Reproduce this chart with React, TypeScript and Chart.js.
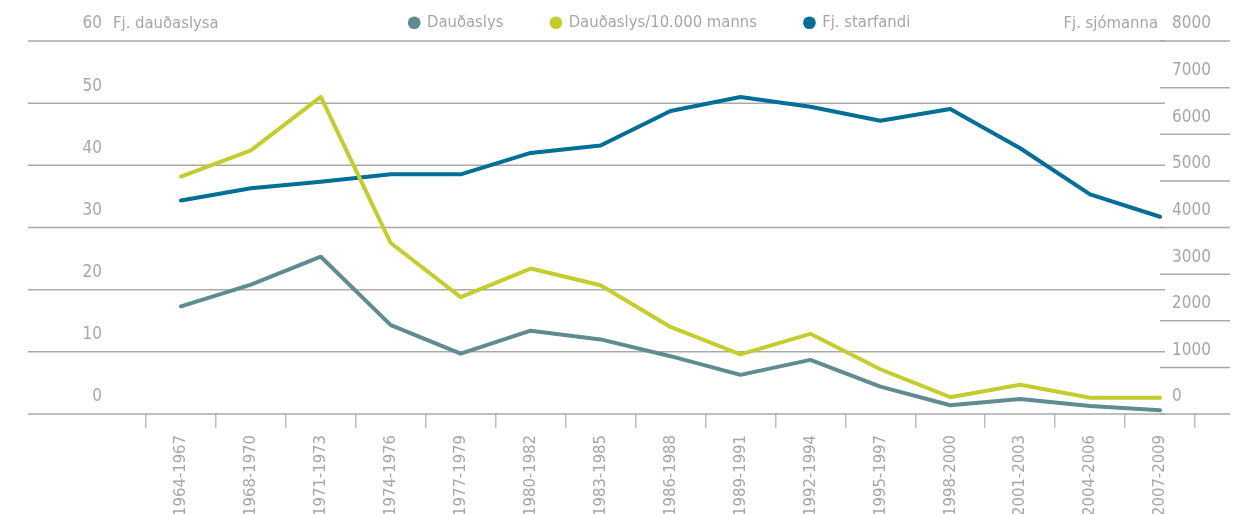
import React, { useEffect, useRef } from "react";
import { Chart, registerables } from "chart.js";

Chart.register(...registerables);

const categories = [
  "1964-1967", "1968-1970", "1971-1973", "1974-1976", "1977-1979",
  "1980-1982", "1983-1985", "1986-1988", "1989-1991", "1992-1994",
  "1995-1997", "1998-2000", "2001-2003", "2004-2006", "2007-2009",
];
const fatalAccidents = [17.3, 20.8, 25.3, 14.3, 9.7, 13.4, 12.0, 9.3, 6.3, 8.7, 4.4, 1.4, 2.4, 1.3, 0.6];
const fatalPer10k = [38.2, 42.4, 51.0, 27.5, 18.8, 23.4, 20.7, 14.0, 9.6, 12.9, 7.2, 2.7, 4.7, 2.6, 2.6];
const seafarers = [4580, 4840, 4980, 5140, 5140, 5600, 5760, 6500, 6800, 6590, 6290, 6540, 5700, 4710, 4230];

const leftTicks = [0, 10, 20, 30, 40, 50, 60];
const rightTicks = [0, 1000, 2000, 3000, 4000, 5000, 6000, 7000, 8000];
const seriesNames = ["Dauðaslys", "Dauðaslys/10.000 manns", "Fj. starfandi"];
const leftTitle = "Fj. dauðaslysa";
const rightTitle = "Fj. sjómanna";

const TEXT = "#a6a6a6";
const GRID = "#a9a9a9";
const TICK = "#bdbdbd";
const COLORS = ["#5f8c90", "#c4cd2c", "#006f97"];
const FAMILY = "'DejaVu Sans Condensed', 'DejaVu Sans', sans-serif";
const SIZE = 16.5;
const NUM_SIZE = 17;
const LEGEND_GAP = 48;

export default function App() {
  const canvasRef = useRef<HTMLCanvasElement | null>(null);

  useEffect(() => {
    if (!canvasRef.current) return;
    const fontOpt: any = { family: FAMILY, size: SIZE };
    const fontStr = `${SIZE}px ${FAMILY}`;
    const numFontStr = `${NUM_SIZE}px ${FAMILY}`;

    Chart.defaults.font.family = FAMILY;
    Chart.defaults.font.size = SIZE;
    Chart.defaults.color = TEXT;

    const axisPlugin = {
      id: "customAxes",
      beforeDatasetsDraw(chart: any) {
        const { ctx, chartArea, scales } = chart;
        const yl = scales.y;
        const yr = scales.y1;
        ctx.save();
        ctx.strokeStyle = GRID;
        ctx.lineWidth = 1.5;
        yl.ticks.forEach((t: any) => {
          const py = yl.getPixelForValue(t.value);
          ctx.beginPath();
          ctx.moveTo(chartArea.left - 118, py);
          ctx.lineTo(chartArea.right - 30, py);
          ctx.stroke();
        });
        yr.ticks.forEach((t: any) => {
          const py = yr.getPixelForValue(t.value);
          ctx.beginPath();
          ctx.moveTo(chartArea.right - 35, py);
          ctx.lineTo(chartArea.right + 35, py);
          ctx.stroke();
        });
        ctx.restore();
      },
      afterDraw(chart: any) {
        const { ctx, chartArea, scales } = chart;
        const yl = scales.y;
        const yr = scales.y1;
        ctx.save();
        ctx.fillStyle = TEXT;
        ctx.textBaseline = "middle";
        ctx.font = numFontStr;
        ctx.textAlign = "right";
        yl.ticks.forEach((t: any) => {
          ctx.fillText(String(t.value), chartArea.left - 44, yl.getPixelForValue(t.value) - 17);
        });
        ctx.textAlign = "left";
        yr.ticks.forEach((t: any) => {
          ctx.fillText(String(t.value), chartArea.right - 23, yr.getPixelForValue(t.value) - 17);
        });
        ctx.font = fontStr;
        ctx.textAlign = "left";
        ctx.fillText(leftTitle, chartArea.left - 33, yl.getPixelForValue(60) - 17);
        ctx.textAlign = "right";
        ctx.fillText(rightTitle, chartArea.right - 37, yr.getPixelForValue(8000) - 17);
        ctx.restore();
      },
    };

    // legend box height = item height + gap + 10 ; chart area should start at y = 41
    const topPad = 41 - (SIZE + LEGEND_GAP + 10);

    const chart = new Chart(canvasRef.current, {
      type: "line",
      data: {
        labels: categories,
        datasets: [
          { label: seriesNames[0], data: fatalAccidents, yAxisID: "y", borderColor: COLORS[0], backgroundColor: COLORS[0] },
          { label: seriesNames[1], data: fatalPer10k, yAxisID: "y", borderColor: COLORS[1], backgroundColor: COLORS[1] },
          { label: seriesNames[2], data: seafarers, yAxisID: "y1", borderColor: COLORS[2], backgroundColor: COLORS[2] },
        ],
      },
      options: {
        animation: false,
        responsive: true,
        maintainAspectRatio: false,
        layout: { padding: { left: 70, right: 0, top: topPad, bottom: 0 } },
        elements: {
          line: { borderWidth: 4, tension: 0, borderCapStyle: "round", borderJoinStyle: "round" },
          point: { radius: 0, hoverRadius: 0 },
        },
        plugins: {
          tooltip: { enabled: false },
          legend: {
            position: "top",
            align: "center",
            labels: {
              usePointStyle: true,
              pointStyle: "circle",
              boxWidth: 9,
              boxHeight: 9,
              padding: LEGEND_GAP,
              color: TEXT,
              font: fontOpt,
              generateLabels: (c: any) =>
                Chart.defaults.plugins.legend.labels
                  .generateLabels(c)
                  .map((l: any) => ({ ...l, lineWidth: 0 })),
            },
          },
        },
        scales: {
          x: {
            type: "category",
            offset: true,
            afterFit: (s: any) => {
              s.height = 100;
            },
            grid: {
              display: true,
              drawOnChartArea: false,
              drawTicks: true,
              tickLength: 14,
              offset: true,
              color: TICK,
              lineWidth: 1.5,
            },
            border: { display: false },
            ticks: {
              autoSkip: false,
              minRotation: 90,
              maxRotation: 90,
              padding: 7,
              color: TEXT,
              font: fontOpt,
            },
          },
          y: {
            type: "linear",
            position: "left",
            min: 0,
            max: 60,
            afterFit: (s: any) => {
              s.width = 76;
            },
            afterBuildTicks: (s: any) => {
              s.ticks = leftTicks.map((v) => ({ value: v }));
            },
            grid: { display: false, drawTicks: false },
            border: { display: false },
            ticks: { display: false },
          },
          y1: {
            type: "linear",
            position: "right",
            min: 0,
            max: 8000,
            afterFit: (s: any) => {
              s.width = 55;
            },
            afterBuildTicks: (s: any) => {
              s.ticks = rightTicks.map((v) => ({ value: v }));
            },
            grid: { display: false, drawTicks: false },
            border: { display: false },
            ticks: { display: false },
          },
        },
      },
      plugins: [axisPlugin],
    } as any);

    return () => chart.destroy();
  }, []);

  return (
    <div style={{ position: "absolute", left: 0, top: 0, width: 1250, height: 514, background: "#fff" }}>
      <canvas ref={canvasRef} />
    </div>
  );
}
